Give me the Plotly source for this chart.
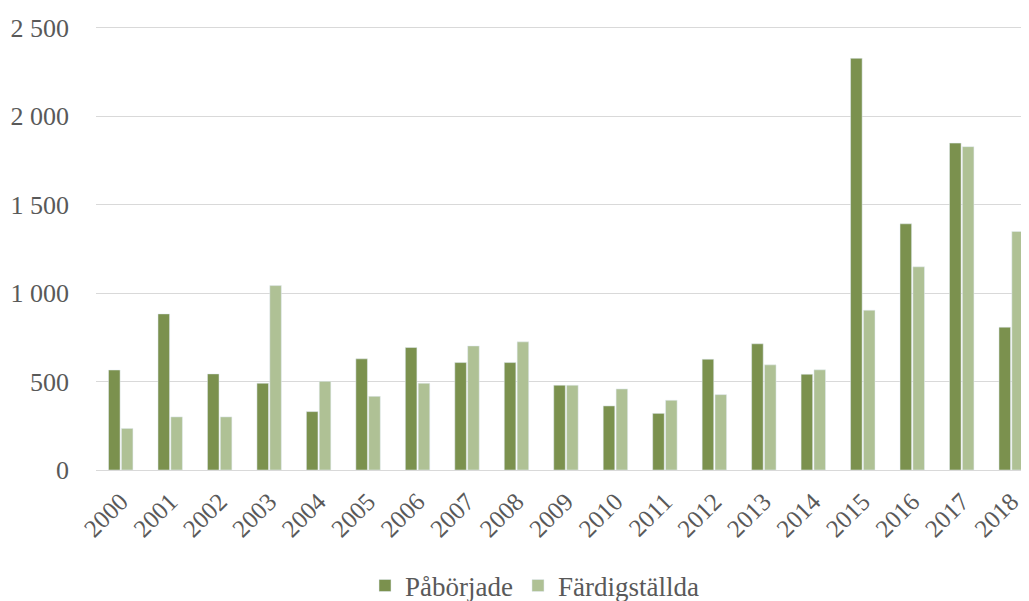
import plotly.graph_objects as go

years = [str(y) for y in range(2000, 2019)]
paborjade = [565, 882, 543, 490, 330, 628, 692, 607, 607, 479, 362, 320, 626, 713, 541, 2326, 1391, 1847, 807]
fardigstallda = [235, 300, 300, 1042, 501, 416, 490, 701, 724, 479, 458, 394, 426, 594, 566, 903, 1148, 1827, 1348]
y_ticks = [0, 500, 1000, 1500, 2000, 2500]
y_ticktext = ["0", "500", "1 000", "1 500", "2 000", "2 500"]

FONT = "Liberation Serif, Times New Roman, serif"
TXT = "#595959"

fig = go.Figure()
fig.add_trace(go.Bar(x=years, y=paborjade, name="Påbörjade", marker_color="#7B914E"))
fig.add_trace(go.Bar(x=years, y=fardigstallda, name="Färdigställda", marker_color="#AFC195"))

# page body has an 8px default margin, so the figure is sized/placed to compensate
fig.update_layout(
    width=1021, height=593,
    margin=dict(l=88, r=0, t=16, b=131, autoexpand=False),
    paper_bgcolor="white", plot_bgcolor="white",
    barmode="group", bargap=0.48, bargroupgap=0.1,
    font=dict(family=FONT, size=26, color=TXT),
    showlegend=True,
    legend=dict(orientation="h", x=0.47, xanchor="center", y=-0.26, yanchor="middle",
                font=dict(family=FONT, size=27, color=TXT), itemwidth=30,
                traceorder="normal"),
)
fig.update_xaxes(
    type="category", range=[-0.5, 18.36], tickangle=-45, automargin=False,
    showgrid=False, showline=False, ticks="", ticklabelstandoff=11,
    tickfont=dict(family=FONT, size=25, color=TXT),
)
fig.update_yaxes(
    range=[0, 2520], tickvals=y_ticks, ticktext=y_ticktext, automargin=False,
    showgrid=True, gridcolor="#D9D9D9", gridwidth=1,
    zeroline=True, zerolinecolor="#D9D9D9", zerolinewidth=1,
    showline=False, ticks="", ticklabelstandoff=26,
    tickfont=dict(family=FONT, size=26, color=TXT),
)

fig.write_html("out.html")
